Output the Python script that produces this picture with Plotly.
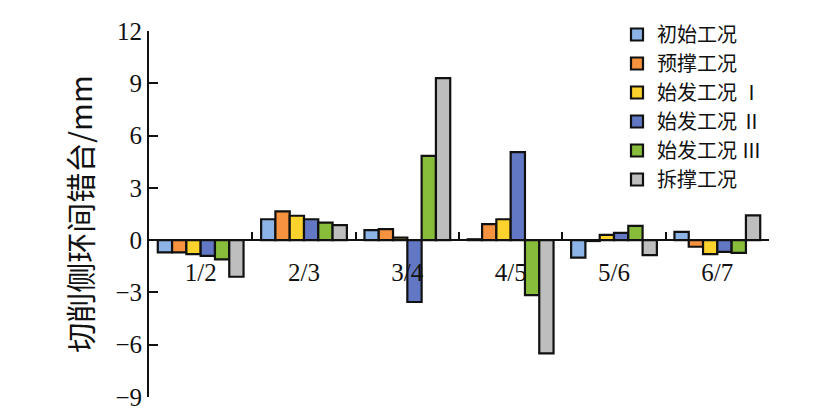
import plotly.graph_objects as go

categories = ["1/2", "2/3", "3/4", "4/5", "5/6", "6/7"]
series_names = ["初始工况", "预撑工况", "始发工况 Ⅰ", "始发工况 Ⅱ", "始发工况 Ⅲ", "拆撑工况"]
chushi = [-0.7, 1.2, 0.57, 0.05, -1.0, 0.48]
yucheng = [-0.7, 1.65, 0.63, 0.92, -0.05, -0.38]
shifa1 = [-0.8, 1.4, 0.15, 1.2, 0.3, -0.8]
shifa2 = [-0.9, 1.2, -3.55, 5.05, 0.42, -0.67]
shifa3 = [-1.1, 1.0, 4.83, -3.15, 0.82, -0.73]
caicheng = [-2.1, 0.86, 9.3, -6.5, -0.86, 1.42]
colors = ["#8DB4E6", "#F7923E", "#FCD22C", "#6378C4", "#88BD3C", "#BEBEBE"]
yticks = [-9, -6, -3, 0, 3, 6, 9, 12]

values = [chushi, yucheng, shifa1, shifa2, shifa3, caicheng]

fig = go.Figure()
for name, vals, col in zip(series_names, values, colors):
    fig.add_trace(go.Bar(
        x=categories, y=vals, name=name,
        marker=dict(color=col, line=dict(color="#111111", width=2.2)),
    ))

ymin, ymax = -9, 12
fig.update_layout(
    width=840, height=416,
    margin=dict(l=141, r=79, t=23, b=27, autoexpand=False),
    paper_bgcolor="white", plot_bgcolor="white",
    barmode="group", bargap=0.17, bargroupgap=0,
    showlegend=True,
    legend=dict(
        xref="container", yref="container",
        x=609 / 840, y=1 - 7 / 416, xanchor="left", yanchor="top",
        font=dict(family="Noto Sans CJK SC", size=20, color="#111111"),
        tracegroupgap=0, itemwidth=30, bgcolor="rgba(0,0,0,0)",
    ),
    xaxis=dict(
        type="category", anchor="free",
        position=(0 - ymin) / (ymax - ymin),
        showline=True, linecolor="#111111", linewidth=2,
        ticks="inside", ticklen=7, tickwidth=1.5, tickcolor="#111111",
        tickson="boundaries", ticklabelstandoff=10,
        tickfont=dict(family="Liberation Serif", size=25, color="#111111"),
        showgrid=False, zeroline=False,
    ),
    yaxis=dict(
        range=[ymin, ymax], tickvals=yticks,
        showline=True, linecolor="#111111", linewidth=2,
        ticks="inside", ticklen=9, tickwidth=1.5, tickcolor="#111111",
        tickfont=dict(family="Liberation Serif", size=25, color="#111111"),
        showgrid=False, zeroline=False,
        title=dict(text="切削侧环间错台/mm", standoff=14,
                   font=dict(family="Noto Sans CJK SC", size=30, color="#111111")),
    ),
)

fig.write_html("out.html")
